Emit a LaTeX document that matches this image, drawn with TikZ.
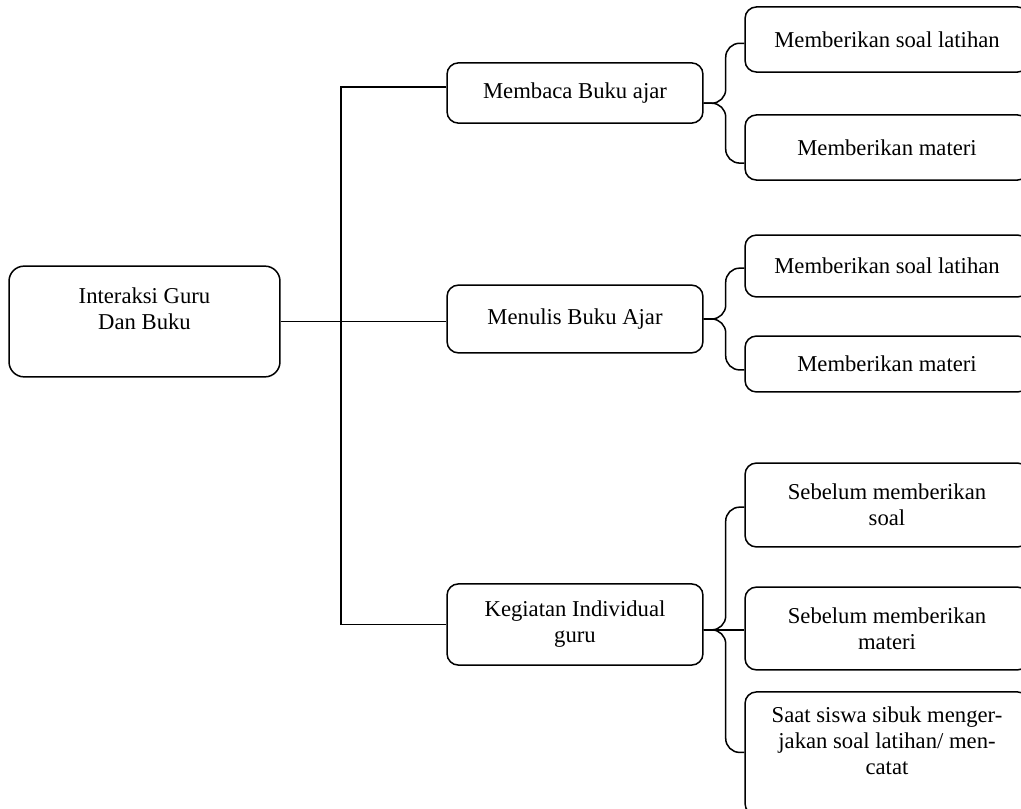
\documentclass[tikz,border=0pt]{standalone}
\usepackage{fontspec}
\setmainfont{Liberation Serif}

\tikzset{
  box/.style={draw, line width=0.8pt, rounded corners=6pt, align=center,
    font=\fontsize{12}{13.8}\selectfont},
  link/.style={line width=0.7pt},
  brace/.style={line width=0.8pt, rounded corners=0.26cm}
}

\begin{document}
\begin{tikzpicture}[x=0.0186cm, y=-0.0186cm]
        \useasboundingbox (0,0) rectangle (1021,809);
        \clip (0,0) rectangle (1021,809);

        % root and the three middle boxes
        \node[box, rounded corners=8pt, minimum width=5.04cm, minimum height=2.06cm] (root) at (144.5,321.5) {Interaksi Guru\\Dan Buku\\\mbox{}};
        \node[box, minimum width=4.76cm, minimum height=1.12cm] (membaca) at (575,93) {Membaca Buku ajar};
        \node[box, minimum width=4.76cm, minimum height=1.26cm] (menulis) at (575,319) {Menulis Buku Ajar};
        \node[box, minimum width=4.76cm, minimum height=1.51cm] (kegiatan) at (575,624.5) {Kegiatan Individual\\guru};

        % right column
        \foreach \n/\y/\h/\t in {b1/39.5/1.21/{Memberikan soal latihan},
                                  b2/147.5/1.21/{Memberikan materi},
                                  b3/266/1.15/{Memberikan soal latihan},
                                  b4/364/1.04/{Memberikan materi},
                                  b5/505/1.56/{Sebelum memberikan\\soal},
                                  b6/628.5/1.54/{Sebelum memberikan\\materi},
                                  b7/753.5/2.29/{Saat siswa sibuk menger-\\jakan soal latihan/ men-\\catat\\\mbox{}}} {
            \node[box, minimum width=5.28cm, minimum height=\h cm] (\n) at (887,\y) {\t};
        }

        % trunk
        \coordinate (trunk) at (341,321.5);
        \draw[link] (root.east) -- (root.east -| menulis.west);
        \draw[link] ([yshift=0.11cm]membaca.west) -| (trunk) |- (kegiatan.west);

        % braces
        \coordinate (tip1) at ([yshift=-0.19cm]membaca.east);
        \coordinate (tip2) at (menulis.east);
        \coordinate (tip3) at ([yshift=-0.1cm]kegiatan.east);

        \draw[brace] (tip1) -- ++(22,0) |- ([yshift=-0.07cm]b1.west);
        \draw[brace] (tip1) -- ++(22,0) |- ([yshift=-0.29cm]b2.west);
        \draw[brace] (tip2) -- ++(22,0) |- ([yshift=-0.04cm]b3.west);
        \draw[brace] (tip2) -- ++(22,0) |- ([yshift=-0.11cm]b4.west);
        \draw[brace] (tip3) -- ++(22,0) |- ([yshift=-0.04cm]b5.west);
        \draw[link] (tip3) -- (tip3 -| b6.west);
        \draw[brace] (tip3) -- ++(22,0) |- ([yshift=0.02cm]b7.west);
\end{tikzpicture}
\end{document}
